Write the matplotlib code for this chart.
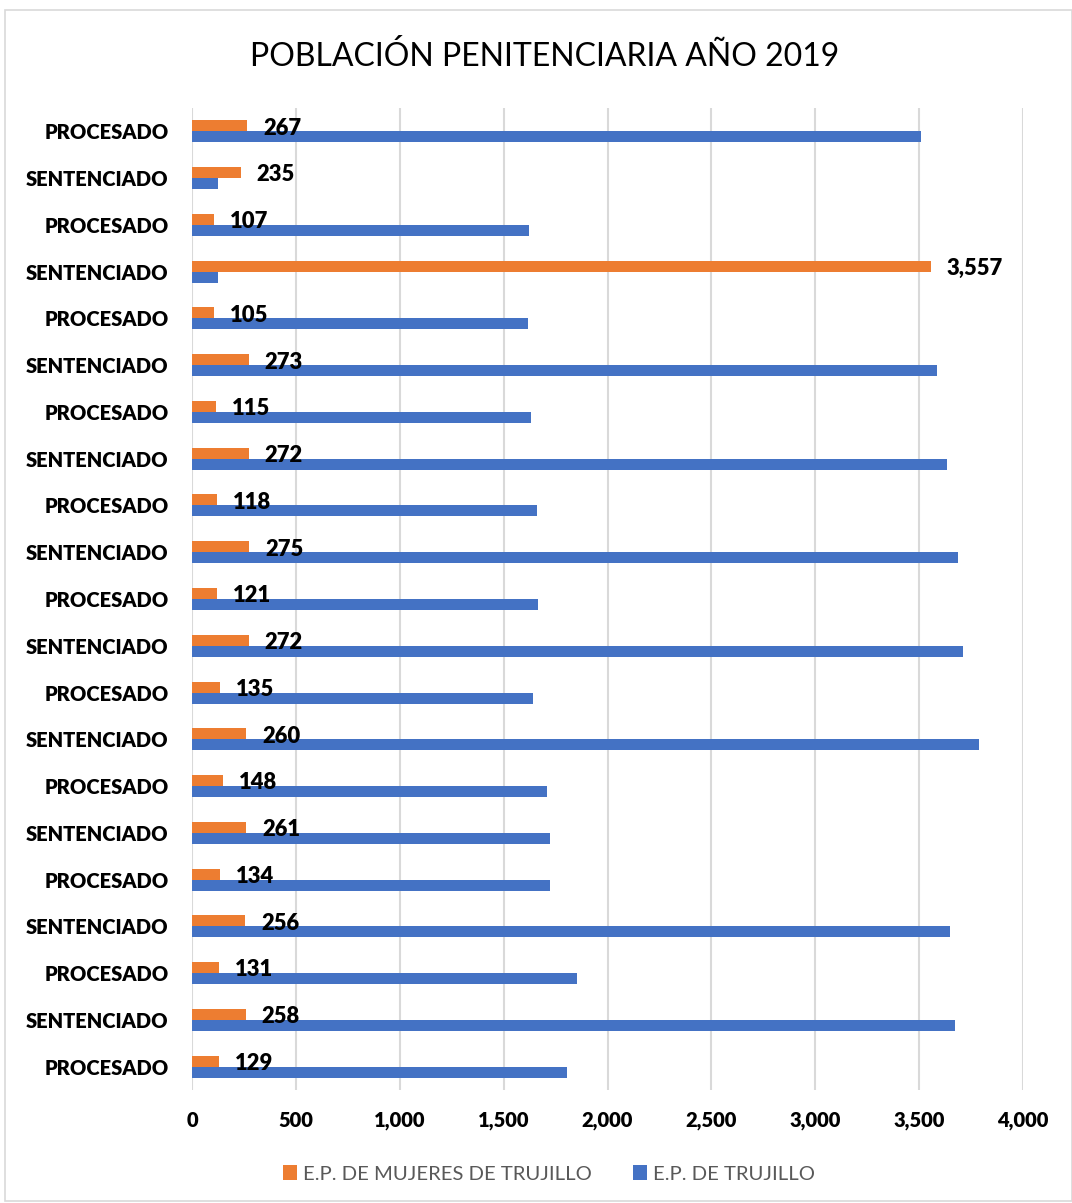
import matplotlib
matplotlib.use("Agg")
import matplotlib.pyplot as plt
from matplotlib.patches import Rectangle
import numpy as np

plt.rcParams['font.family'] = ['Lato', 'DejaVu Sans']

categories = ["PROCESADO", "SENTENCIADO", "PROCESADO", "SENTENCIADO", "PROCESADO",
              "SENTENCIADO", "PROCESADO", "SENTENCIADO", "PROCESADO", "SENTENCIADO",
              "PROCESADO", "SENTENCIADO", "PROCESADO", "SENTENCIADO", "PROCESADO",
              "SENTENCIADO", "PROCESADO", "SENTENCIADO", "PROCESADO", "SENTENCIADO",
              "PROCESADO"]
mujeres = [267, 235, 107, 3557, 105, 273, 115, 272, 118, 275, 121, 272, 135, 260,
           148, 261, 134, 256, 131, 258, 129]
trujillo = [3509, 125, 1622, 125, 1617, 3586, 1632, 3634, 1661, 3687, 1665, 3711,
            1641, 3788, 1709, 1723, 1723, 3649, 1853, 3673, 1805]
series_names = ["E.P. DE MUJERES DE TRUJILLO", "E.P. DE TRUJILLO"]
xticks = [0, 500, 1000, 1500, 2000, 2500, 3000, 3500, 4000]

orange = "#ED7D31"
blue = "#4472C4"
WEIGHT = "heavy"

W, H = 1072, 1203
fig = plt.figure(figsize=(W / 100, H / 100), dpi=100)
ax = fig.add_axes([192 / W, 1 - 1090 / H, (1023 - 192) / W, (1090 - 108) / H])

y = np.arange(len(categories))
bh = 0.235
ax.barh(y - bh / 2, mujeres, height=bh, color=orange, label=series_names[0], zorder=3)
ax.barh(y + bh / 2, trujillo, height=bh, color=blue, label=series_names[1], zorder=3)

for yi, v in zip(y, mujeres):
    ax.annotate(f"{v:,}", xy=(v, yi - bh / 2 + 0.05), xytext=(16, 0),
                textcoords="offset pixels",
                ha="left", va="center", fontsize=15.8, fontweight=WEIGHT, color="black")

ax.set_xlim(0, 4000)
ax.set_ylim(len(categories) - 0.5, -0.5)
ax.set_xticks(xticks)
ax.set_xticklabels([f"{t:,}" for t in xticks], fontsize=14.5, fontweight=WEIGHT)
ax.set_yticks(y)
ax.set_yticklabels(categories, fontsize=14.5, fontweight=WEIGHT)
ax.tick_params(axis="both", length=0)
ax.tick_params(axis="x", pad=15)
ax.tick_params(axis="y", pad=17)
ax.grid(axis="x", color="#D9D9D9", linewidth=1.5, zorder=0)
for s in ax.spines.values():
    s.set_visible(False)

fig.text(545 / W, 1 - 56 / H, "POBLACIÓN PENITENCIARIA AÑO 2019", ha="center", va="center",
         fontsize=23, color="black")

handles, labels = ax.get_legend_handles_labels()
leg = fig.legend(handles, labels, loc="center", bbox_to_anchor=(549 / W, 1 - 1174 / H),
                 ncol=2, frameon=False, fontsize=14.6, handlelength=0.7, handleheight=0.7,
                 columnspacing=2.0, handletextpad=0.3)
for t in leg.get_texts():
    t.set_color("#595959")

fig.patches.append(Rectangle((5 / W, 2 / H), 1 - 5 / W, 1 - 12 / H, transform=fig.transFigure,
                             fill=False, edgecolor="#D9D9D9", linewidth=1.2))

fig.savefig("out.png", dpi=100)
